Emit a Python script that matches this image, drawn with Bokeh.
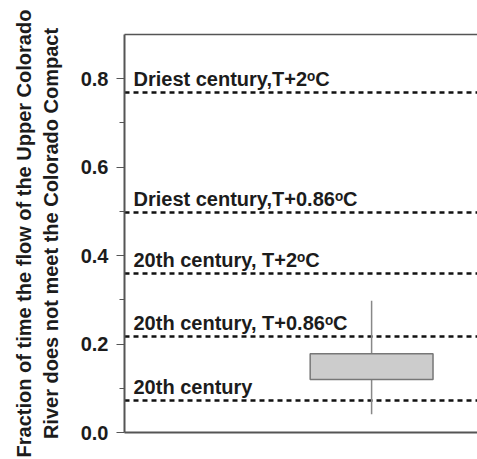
from bokeh.plotting import figure
from bokeh.models import FixedTicker, LinearAxis, Range1d
from bokeh.embed import file_html
from bokeh.resources import INLINE
from bokeh.core.properties import value

# Reference levels (fraction of time compact not met)
level_names = ["Driest century,T+2ᵒC", "Driest century,T+0.86ᵒC",
               "20th century, T+2ᵒC", "20th century, T+0.86ᵒC", "20th century"]
level_values = [0.768, 0.497, 0.359, 0.217, 0.072]

# Box plot summary
box_x = [0.7]
box_low = [0.041]
box_q1 = [0.120]
box_median = [0.138]
box_q3 = [0.178]
box_high = [0.298]

y_ticks = [0.0, 0.2, 0.4, 0.6, 0.8]
y_minor = [0.1, 0.3, 0.5, 0.7]

FONT = "Liberation Sans"
TXT = "#1c1c1c"

p = figure(width=477, height=459, output_backend="svg", toolbar_location=None,
           x_range=Range1d(0, 1), y_range=Range1d(0, 0.9),
           min_border_left=124, min_border_top=34, min_border_bottom=27, min_border_right=0)
p.outline_line_color = None
p.xgrid.visible = False
p.ygrid.visible = False
p.background_fill_color = "white"

# x axis: line only
p.xaxis.ticker = FixedTicker(ticks=[], minor_ticks=[])
p.xaxis.major_tick_line_color = None
p.xaxis.minor_tick_line_color = None
p.xaxis.axis_line_color = "#555555"
p.xaxis.axis_line_width = 2

# top border as axis line
top = LinearAxis(ticker=FixedTicker(ticks=[], minor_ticks=[]),
                 major_tick_line_color=None, minor_tick_line_color=None,
                 axis_line_color="#555555", axis_line_width=1.5)
p.add_layout(top, "above")

ya = p.yaxis[0]
ya.ticker = FixedTicker(ticks=y_ticks, minor_ticks=y_minor)
ya.major_label_overrides = {t: f"{t:.1f}" for t in y_ticks}
ya.axis_line_color = "#555555"
ya.axis_line_width = 2
ya.major_tick_line_color = "#555555"
ya.minor_tick_line_color = "#555555"
ya.major_tick_out = 8
ya.major_tick_in = 0
ya.minor_tick_out = 5
ya.minor_tick_in = 0
ya.major_label_standoff = 8
ya.major_label_text_font = FONT
ya.major_label_text_font_style = "bold"
ya.major_label_text_font_size = "20px"
ya.major_label_text_color = TXT
ya.axis_label = "Fraction of time the flow of the Upper Colorado\nRiver does not meet the Colorado Compact"
ya.axis_label_text_font = FONT
ya.axis_label_text_font_style = "bold"
ya.axis_label_text_font_size = "20px"
ya.axis_label_text_color = TXT
ya.axis_label_standoff = 16

# dotted reference lines
p.hspan(y=level_values, line_color="#111111", line_width=2.5, line_dash="5 4")

# labels above lines
p.text(x=[0] * len(level_values), y=level_values, text=level_names,
       x_offset=9, y_offset=-14, text_baseline="alphabetic", text_align="left",
       text_font=value(FONT), text_font_style="bold", text_font_size="20px",
       text_color=TXT)

# box plot
p.segment(x0=box_x, x1=box_x, y0=box_low, y1=box_high, line_color="#888888", line_width=1.5)
p.vbar(x=box_x, width=0.348, bottom=box_q1, top=box_q3,
       fill_color="#cccccc", line_color="#777777", line_width=1.5)
p.rect(x=box_x, y=box_median, width=0.348, height=0, line_color="#666666", line_width=1.5,
       height_units="data", fill_color=None)

open("out.html", "w").write(file_html(p, INLINE))
